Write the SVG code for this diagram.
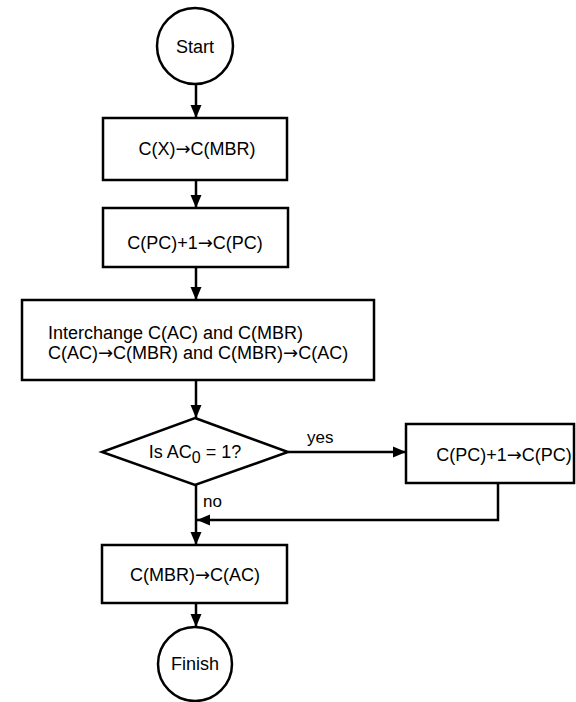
<svg xmlns="http://www.w3.org/2000/svg" width="576" height="702" viewBox="0 0 576 702">
  <style>
    .shape { fill: #ffffff; stroke: #000000; stroke-width: 2.5; }
    .line { fill: none; stroke: #000000; stroke-width: 2.5; }
    text { font-family: "Liberation Sans", "DejaVu Sans", sans-serif; font-size: 18px; fill: #000000; }
    .c { text-anchor: middle; }
    .lbl { font-size: 17px; }
    .ar { font-family: "DejaVu Sans", sans-serif; }
  </style>
  <defs>
    <marker id="ah" markerUnits="userSpaceOnUse" markerWidth="14" markerHeight="14" viewBox="0 0 14 14" refX="13" refY="7" orient="auto">
      <path d="M0,1.5 L13,7 L0,12.5 Z" fill="#000000"/>
    </marker>
  </defs>
  <rect width="576" height="702" fill="#ffffff"/>

  <g id="connectors">
    <line class="line" x1="196" y1="84" x2="196" y2="118" marker-end="url(#ah)"/>
    <line class="line" x1="196" y1="180" x2="196" y2="208" marker-end="url(#ah)"/>
    <line class="line" x1="196" y1="267" x2="196" y2="300" marker-end="url(#ah)"/>
    <line class="line" x1="196" y1="380" x2="196" y2="418" marker-end="url(#ah)"/>
    <line class="line" x1="288" y1="452" x2="406" y2="452" marker-end="url(#ah)"/>
    <line class="line" x1="196" y1="485" x2="196" y2="545" marker-end="url(#ah)"/>
    <polyline class="line" points="498,483 498,520 197,520" marker-end="url(#ah)"/>
    <line class="line" x1="196" y1="603" x2="196" y2="627" marker-end="url(#ah)"/>
    <text class="lbl" x="307" y="443">yes</text>
    <text class="lbl" x="203" y="507">no</text>
  </g>

  <g id="start">
    <circle class="shape" cx="195" cy="46" r="38"/>
    <text class="c" x="195" y="53">Start</text>
  </g>

  <g id="box1">
    <rect class="shape" x="103" y="118" width="184" height="62"/>
    <text class="c" x="197" y="155">C(X)<tspan class="ar">→</tspan>C(MBR)</text>
  </g>

  <g id="box2">
    <rect class="shape" x="103" y="208" width="185" height="59"/>
    <text class="c" x="195" y="249">C(PC)+1<tspan class="ar">→</tspan>C(PC)</text>
  </g>

  <g id="interchange">
    <rect class="shape" x="22" y="300" width="352" height="80"/>
    <text x="48" y="339">Interchange C(AC) and C(MBR)</text>
    <text x="48" y="359">C(AC)<tspan class="ar">→</tspan>C(MBR) and C(MBR)<tspan class="ar">→</tspan>C(AC)</text>
  </g>

  <g id="decision">
    <polygon class="shape" points="195,418 288,452 195,485 102,452"/>
    <text class="c" x="195" y="458" font-size="19">Is AC<tspan font-size="16" dy="5">0</tspan><tspan dy="-5"> = 1?</tspan></text>
  </g>

  <g id="box3">
    <rect class="shape" x="406" y="424" width="168" height="59"/>
    <text class="c" x="504" y="461">C(PC)+1<tspan class="ar">→</tspan>C(PC)</text>
  </g>

  <g id="box4">
    <rect class="shape" x="102" y="545" width="185" height="58"/>
    <text class="c" x="195" y="581">C(MBR)<tspan class="ar">→</tspan>C(AC)</text>
  </g>

  <g id="finish">
    <circle class="shape" cx="195" cy="664" r="37"/>
    <text class="c" x="195" y="670">Finish</text>
  </g>
</svg>
